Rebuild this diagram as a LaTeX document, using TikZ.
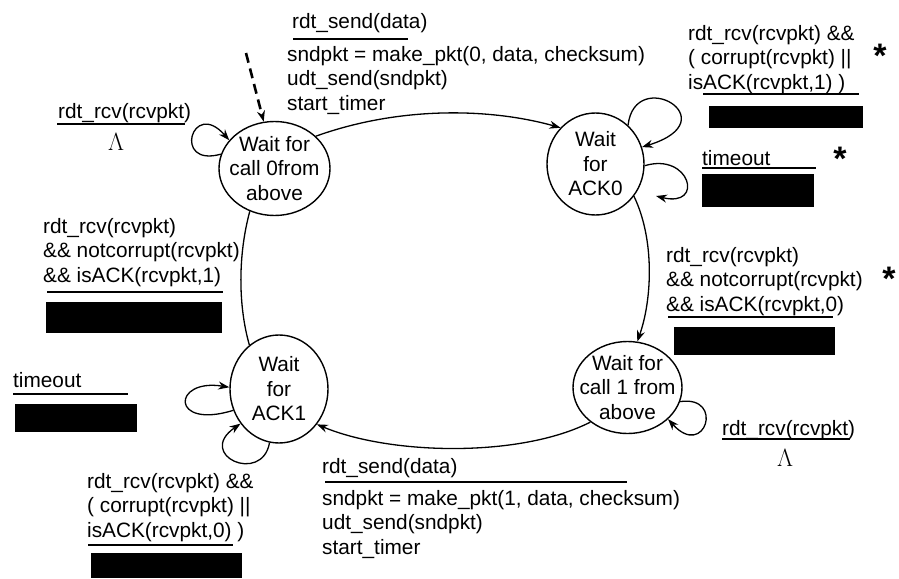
\documentclass[tikz,border=0pt]{standalone}
\usepackage{fontspec}
\setmainfont{Liberation Sans}
\usetikzlibrary{arrows.meta,shapes.geometric,positioning}

\tikzset{
  state/.style={ellipse,draw,line width=1.4pt,inner sep=0pt},
  statetext/.style={align=center,inner sep=0pt,font=\fontsize{20.8}{24.5}\selectfont},
  trans/.style={line width=1.3pt,-{Stealth[length=11pt,width=8pt]}},
  guard/.style={anchor=north west,inner sep=0pt,align=left,font=\fontsize{20.8}{24.5}\selectfont},
  bar/.style={line width=2.8pt},
  hidden/.style={fill=black},
  star/.style={anchor=north,inner sep=0pt,font=\bfseries\fontsize{34}{34}\selectfont},
  lam/.style={inner sep=0pt,font=\fontsize{27}{27}\selectfont}
}

\begin{document}
\begin{tikzpicture}[x=1pt,y=-1pt]
\useasboundingbox (0,0) rectangle (899,578);

\node[state,minimum width=111pt,minimum height=94pt,label={[statetext]center:{Wait for\\call 0from\\above}}] (s0) at (274.5,168.5) {};
\node[state,minimum width=97pt,minimum height=102pt,label={[statetext]center:{Wait\\for\\ACK0}}] (ack0) at (595.5,164) {};
\node[state,minimum width=98pt,minimum height=108pt,label={[statetext]center:{Wait\\for\\ACK1}}] (ack1) at (279,389) {};
\node[state,minimum width=109pt,minimum height=92pt,label={[statetext]center:{Wait for\\call 1 from\\above}}] (call1) at (627.5,387.5) {};

\coordinate (init) at (246,53);
\coordinate (tout0end) at (656,196);

\draw[trans,line width=2.6pt,dash pattern=on 10pt off 6pt] (init) -- (s0.103);
\draw[trans] (s0.38) .. controls (400,106) and (490,108) .. (ack0.134);
\draw[trans] (ack0.-40) .. controls (655,240) and (652,300) .. (call1.78);
\draw[trans] (call1.-137) .. controls (520,458) and (390,455) .. (ack1.-43);
\draw[line width=1.3pt] (s0.-120) .. controls (238,255) and (238,305) .. (ack1.124);

\draw[trans] (s0.165) .. controls (172,168) and (192,98) .. (s0.148);
\draw[trans] (ack0.50) .. controls (635,65) and (730,120) .. (ack0.20);
\draw[trans] (ack0.-2) .. controls (690,152) and (705,208) .. (tout0end);
\draw[trans] (ack1.205) .. controls (170,430) and (172,378) .. (ack1.178);
\draw[trans] (ack1.-100) .. controls (262,485) and (195,455) .. (ack1.-138);
\draw[trans] (call1.-15) .. controls (725,395) and (705,460) .. (call1.-38);

\node[guard] (snd0) at (292,13) {rdt\_send(data)};
\draw[bar] (293,39) -- (408,39);
\node[guard] (snd0act) at (287,46) {sndpkt = make\_pkt(0, data, checksum)\\udt\_send(sndpkt)\\start\_timer};

\node[guard] (nak0) at (688,25) {rdt\_rcv(rcvpkt) \&\&\\( corrupt(rcvpkt) ||\\isACK(rcvpkt,1) )};
\draw[bar] (703,94) -- (859,94);
\fill[hidden] (709,106) rectangle (863,128);
\node[star] (nak0star) at (880,44) {*};

\node[guard] (tout0) at (702,150) {timeout};
\draw[bar] (702,168) -- (816,168);
\fill[hidden] (702,174) rectangle (814,207);
\node[star] (tout0star) at (840,147) {*};

\node[guard] (dup0) at (58,103) {rdt\_rcv(rcvpkt)};
\draw[bar] (57,124) -- (185,124);
\node[lam] (dup0lam) at (116,142) {$\Lambda$};

\node[guard] (ack1ok) at (43,218) {rdt\_rcv(rcvpkt)\\\&\& notcorrupt(rcvpkt)\\\&\& isACK(rcvpkt,1)};
\draw[bar] (47,292) -- (223,292);
\fill[hidden] (46,302) rectangle (222,333);

\node[guard] (ack0ok) at (666,247) {rdt\_rcv(rcvpkt)\\\&\& notcorrupt(rcvpkt)\\\&\& isACK(rcvpkt,0)};
\draw[bar] (668,317) -- (833,317);
\fill[hidden] (674,327) rectangle (835,355);
\node[star] (ack0okstar) at (889,267) {*};

\node[guard] (dup1) at (722,420) {rdt\_rcv(rcvpkt)};
\draw[bar] (722,439) -- (850,439);
\node[lam] (dup1lam) at (785,458) {$\Lambda$};

\node[guard] (tout1) at (13,372) {timeout};
\draw[bar] (13,394) -- (128,394);
\fill[hidden] (15,404) rectangle (137,432);

\node[guard] (nak1) at (87,473) {rdt\_rcv(rcvpkt) \&\&\\( corrupt(rcvpkt) ||\\isACK(rcvpkt,0) )};
\draw[bar] (88,545) -- (233,545);
\fill[hidden] (91,553) rectangle (242,578);

\node[guard] (snd1) at (322,458) {rdt\_send(data)};
\draw[bar] (325,482) -- (627,482);
\node[guard] (snd1act) at (322,490) {sndpkt = make\_pkt(1, data, checksum)\\udt\_send(sndpkt)\\start\_timer};
\end{tikzpicture}
\end{document}
